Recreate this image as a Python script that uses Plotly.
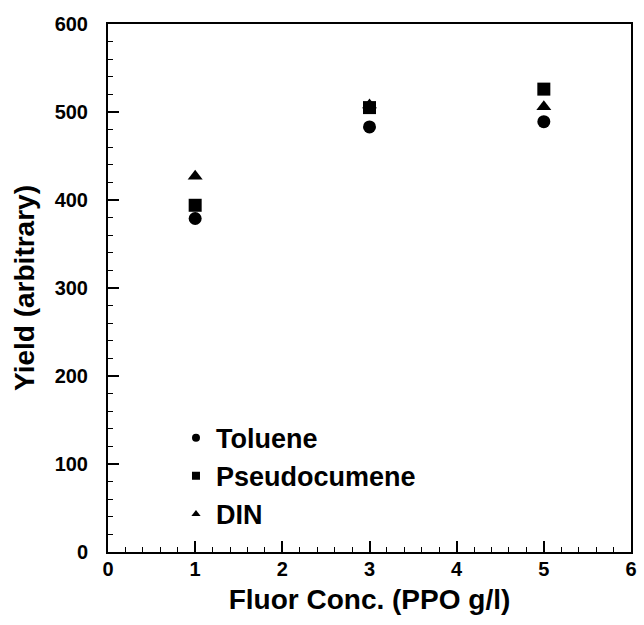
import plotly.graph_objects as go

# Light yield vs. PPO concentration for three solvents
fluor_conc = [1, 3, 5]
toluene = [379, 483, 489]
pseudocumene = [394, 505, 526]
din = [427, 508, 506]

x_ticks = [0, 1, 2, 3, 4, 5, 6]
y_ticks = [0, 100, 200, 300, 400, 500, 600]

FONT = "Liberation Sans, Arial, Helvetica, sans-serif"

series = [
    ("Toluene", toluene, "circle"),
    ("Pseudocumene", pseudocumene, "square"),
    ("DIN", din, "triangle-up"),
]

fig = go.Figure()
for name, vals, sym in series:
    # data markers
    fig.add_trace(go.Scatter(
        x=fluor_conc, y=vals, mode="markers", name=name,
        marker=dict(symbol=sym, size=13, color="black", line=dict(width=0)),
        showlegend=False, cliponaxis=False,
    ))
    # smaller legend key
    fig.add_trace(go.Scatter(
        x=[None], y=[None], mode="markers", name=name,
        marker=dict(symbol=sym, size=8, color="black", line=dict(width=0)),
    ))

axis_common = dict(
    showgrid=False, zeroline=False,
    showline=True, linecolor="black", linewidth=2, mirror=True,
    ticks="inside", ticklen=11, tickwidth=1.5, tickcolor="black",
    tickfont=dict(family=FONT, size=20, color="black", weight="bold"),
)

fig.update_xaxes(
    range=[0, 6], tickvals=x_ticks, ticktext=[str(v) for v in x_ticks],
    minor=dict(dtick=0.2, ticks="inside", ticklen=5, tickwidth=1.2, tickcolor="black"),
    title=dict(text="Fluor Conc. (PPO g/l)", standoff=10,
               font=dict(family=FONT, size=28, color="black", weight="bold")),
    ticklabelstandoff=-2,
    **axis_common,
)
fig.update_yaxes(
    range=[0, 600], tickvals=y_ticks, ticktext=[str(v) for v in y_ticks],
    minor=dict(dtick=20, ticks="inside", ticklen=5, tickwidth=1.2, tickcolor="black"),
    title=dict(text="Yield (arbitrary)", standoff=12,
               font=dict(family=FONT, size=28, color="black", weight="bold")),
    ticklabelstandoff=14,
    **axis_common,
)

fig.update_layout(
    width=644, height=625,
    margin=dict(l=108, r=7, t=24, b=73),
    paper_bgcolor="white", plot_bgcolor="white",
    showlegend=True,
    legend=dict(
        x=0.13, y=0.262, xanchor="left", yanchor="top",
        bgcolor="rgba(0,0,0,0)", borderwidth=0,
        font=dict(family=FONT, size=27, color="black", weight="bold"),
    ),
)

fig.write_html("out.html")
